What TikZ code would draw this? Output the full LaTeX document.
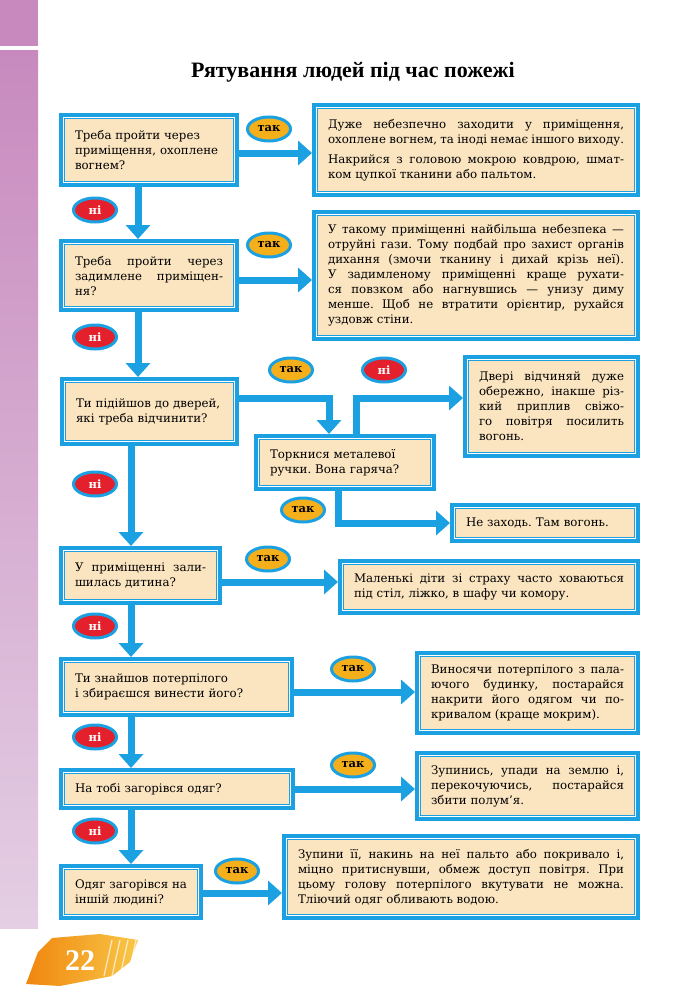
\documentclass[tikz,border=0pt]{standalone}
\usepackage{fontspec}
\setmainfont{DejaVu Serif}
\newfontfamily\titlefont{Liberation Serif}
\usetikzlibrary{arrows.meta,shapes.geometric}
\definecolor{fblue}{HTML}{1BA1E2}
\definecolor{fbeige}{HTML}{FBE5C1}
\definecolor{forange}{HTML}{F4AF1B}
\definecolor{fred}{HTML}{E3202B}
\definecolor{sidetop}{HTML}{C88ABE}
\definecolor{sidebot}{HTML}{E4CFE4}
\definecolor{brushA}{HTML}{F0860E}
\definecolor{brushB}{HTML}{F9C748}
\newcommand\boxfont{\fontsize{11.8}{15}\selectfont}
\newcommand\tagfont{\fontsize{11.5}{12}\selectfont\bfseries}
\hyphenpenalty=10000
\frenchspacing
\tikzset{
  box/.style    = {draw=fblue, line width=4pt, fill=fbeige, align=left,
                   inner xsep=14pt, inner ysep=4pt, font=\boxfont},
  boxj/.style   = {box, align=justify},
  inframe/.style = {draw=fblue, line width=1pt},
  gapframe/.style = {draw=white, line width=1.6pt},
  tagyes/.style = {ellipse, draw=fblue, line width=3pt, fill=forange,
                   minimum width=43pt, minimum height=24pt, inner sep=0pt,
                   font=\tagfont, text=black},
  tagno/.style  = {tagyes, fill=fred, text=white},
  arr/.style    = {-{Triangle[width=24pt,length=14pt]}, draw=fblue, line width=7pt},
}
\begin{document}
\begin{tikzpicture}[x=1pt,y=-1pt]
  \useasboundingbox (0,0) rectangle (700,1001);

  % side strip
  \fill[sidetop] (0,0) rectangle (38,46);
  \shade[top color=sidetop, bottom color=sidebot] (0,50) rectangle (38,928);

  \node[font=\titlefont\bfseries\fontsize{22}{26}\selectfont] (title) at (353,72)
    {Рятування  людей  під  час  пожежі};

  % questions
  \node[box, text width=148pt, minimum height=70pt] (q1) at (149,150)
    {Треба пройти через\\ приміщення, охоплене\\ вогнем?};
  \node[boxj, text width=148pt, minimum height=69pt] (q2) at (149,275.5)
    {Треба пройти через\linebreak задимлене приміщен-\linebreak ня?};
  \node[box, text width=147pt, minimum height=65pt] (q3) at (149.5,411.5)
    {Ти підійшов до дверей,\\ які треба відчинити?};
  \node[box, text width=150pt, minimum height=53pt] (q4) at (345,462.5)
    {Торкнися металевої\\ ручки. Вона гаряча?};
  \node[boxj, text width=131pt, minimum height=55pt] (q5) at (140.5,575.5)
    {У приміщенні зали-\linebreak шилась дитина?};
  \node[box, text width=203pt, minimum height=56pt] (q6) at (176.5,687)
    {Ти знайшов потерпілого\\ і збираєшся винести його?};
  \node[box, text width=204pt, minimum height=38pt] (q7) at (177,789)
    {На тобі загорівся одяг?};
  \node[boxj, text width=112pt, minimum height=52pt] (q8) at (131,892)
    {Одяг загорівся на\linebreak іншій людині?};

  % answers
  \node[boxj, text width=296pt, minimum height=90pt] (a1) at (476,150)
    {Дуже небезпечно заходити у приміщення,\linebreak охоплене вогнем, та іноді немає іншого виходу.{\parfillskip=0pt\par}\vspace{5pt}Накрийся з головою мокрою ковдрою, шмат-\linebreak ком цупкої тканини або пальтом.};
  \node[boxj, text width=296pt, minimum height=127pt] (a2) at (476,275.5)
    {У такому приміщенні найбільша небезпека —\linebreak отруйні гази. Тому подбай про захист органів\linebreak дихання (змочи тканину і дихай крізь неї).\linebreak У задимленому приміщенні краще рухати-\linebreak ся повзком або нагнувшись — унизу диму\linebreak менше. Щоб не втратити орієнтир, рухайся\linebreak уздовж стіни.};
  \node[boxj, text width=145pt, minimum height=99pt] (a3) at (551.5,406.5)
    {Двері відчиняй дуже\linebreak обережно, інакше різ-\linebreak кий приплив свіжо-\linebreak го повітря посилить\linebreak вогонь.};
  \node[box, text width=158pt, minimum height=36pt] (a4) at (545,523)
    {Не заходь. Там вогонь.};
  \node[boxj, text width=270pt, minimum height=52pt] (a5) at (489,587)
    {Маленькі діти зі страху часто ховаються\linebreak під стіл, ліжко, в шафу чи комору.};
  \node[boxj, text width=193pt, minimum height=80pt] (a6) at (527.5,693)
    {Виносячи потерпілого з пала-\linebreak ючого будинку, постарайся\linebreak накрити його одягом чи по-\linebreak кривалом (краще мокрим).};
  \node[boxj, text width=193pt, minimum height=66pt] (a7) at (527.5,786)
    {Зупинись, упади на землю і,\linebreak перекочуючись, постарайся\linebreak збити полум’я.};
  \node[boxj, text width=326pt, minimum height=82pt] (a8) at (461,877)
    {Зупини її, накинь на неї пальто або покривало і,\linebreak міцно притиснувши, обмеж доступ повітря. При\linebreak цьому голову потерпілого вкутувати не можна.\linebreak Тліючий одяг обливають водою.};

  % double frame inside every box
  \foreach \b in {q1,q2,q3,q4,q5,q6,q7,q8,a1,a2,a3,a4,a5,a6,a7,a8} {
    \draw[gapframe] ([shift={(4.6pt,-4.6pt)}]\b.north west) rectangle ([shift={(-4.6pt,4.6pt)}]\b.south east);
    \draw[inframe] ([shift={(5.8pt,-5.8pt)}]\b.north west) rectangle ([shift={(-5.8pt,5.8pt)}]\b.south east);
  }

  % "no" spine
  \coordinate (spineA) at (138,0);
  \coordinate (spineB) at (131,0);
  \draw[arr] (q1.south -| spineA) -- (q2.north -| spineA);
  \draw[arr] (q2.south -| spineA) -- (q3.north -| spineA);
  \draw[arr] (q3.south -| spineB) -- (q5.north -| spineB);
  \draw[arr] (q5.south -| spineB) -- (q6.north -| spineB);
  \draw[arr] (q6.south -| spineB) -- (q7.north -| spineB);
  \draw[arr] (q7.south -| spineB) -- (q8.north -| spineB);

  % "yes" arrows
  \draw[arr] ([yshift=-3pt]q1.east) -- ([yshift=-3pt]q1.east -| a1.west);
  \draw[arr] ([yshift=-4.5pt]q2.east) -- ([yshift=-4.5pt]q2.east -| a2.west);
  \draw[arr] ([yshift=13.5pt]q3.east) -| ([xshift=-16pt]q4.north);
  \draw[arr] ([xshift=11pt]q4.north) |- ([yshift=8.5pt]a3.west);
  \draw[arr] ([xshift=-7pt]q4.south) |- (a4.west);
  \draw[arr] ([yshift=-6.5pt]q5.east) -- ([yshift=-6.5pt]q5.east -| a5.west);
  \draw[arr] ([yshift=-5pt]q6.east) -- ([yshift=-5pt]q6.east -| a6.west);
  \draw[arr] (q7.east) -- (q7.east -| a7.west);
  \draw[arr] ([yshift=-1pt]q8.east) -- ([yshift=-1pt]q8.east -| a8.west);

  % tags
  \node[tagyes] (y1) at (269,129) {так};
  \node[tagno]  (n1) at (95,210)  {ні};
  \node[tagyes] (y2) at (269,245) {так};
  \node[tagno]  (n2) at (95,337)  {ні};
  \node[tagyes] (y3) at (291,370) {так};
  \node[tagno]  (n4) at (384,370) {ні};
  \node[tagno]  (n3) at (95,484)  {ні};
  \node[tagyes] (y4) at (303,510) {так};
  \node[tagyes] (y5) at (268,559) {так};
  \node[tagno]  (n5) at (95,626)  {ні};
  \node[tagyes] (y6) at (353,669) {так};
  \node[tagno]  (n6) at (95,737)  {ні};
  \node[tagyes] (y7) at (353,765) {так};
  \node[tagno]  (n7) at (95,831)  {ні};
  \node[tagyes] (y8) at (237,871) {так};

  % page number
  \shade[left color=brushA, right color=brushB]
    (26,984) -- (38,952) -- (52,938) -- (100,934) -- (138,940) -- (130,962) -- (112,976) -- (60,986) -- cycle;
  \foreach \sx in {104,112,120,128}
    \draw[white, line width=1.2pt, opacity=0.7] (\sx,976) -- (\sx+8,940);
  \node[font=\titlefont\bfseries\fontsize{30}{30}\selectfont, text=white] (page) at (80,961) {22};
\end{tikzpicture}
\end{document}
